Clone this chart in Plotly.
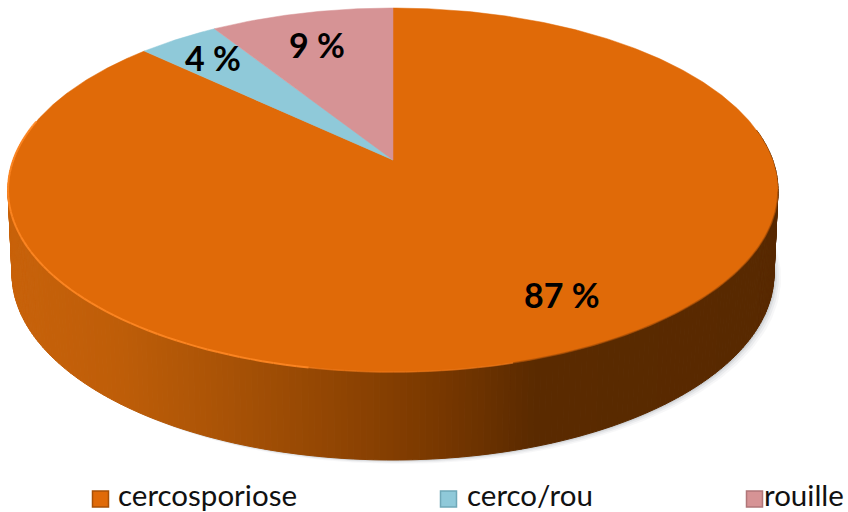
import numpy as np
import plotly.graph_objects as go

categories = ["cercosporiose", "cerco/rou", "rouille"]
values = [87, 4, 9]
labels = ["87 %", "4 %", "9 %"]
colors = ["#E06A08", "#8FC9D9", "#D69395"]

W, H = 848, 512
CX, C = 393.0, 60 / 364
A, B, K = 160.0, -150.68, 379.7
BX, BY, BCY, TCY = 381 / 385, 186 / 182, 274.0, 190.0


def project(theta, r=1.0):
    u, v = r * np.sin(theta), r * np.cos(theta)
    d = 1 + C * v
    return CX + K * u / d, (A + B * v) / d


def bottom(theta):
    x, y = project(theta)
    return CX + BX * (x - CX), BCY + BY * (y - TCY)


fig = go.Figure()

# soft shadow under the body
th = np.linspace(0, 2 * np.pi, 361)
bx, by = bottom(th)
for grow, alpha in [(7, 0.05), (5, 0.07), (3, 0.10), (1.5, 0.14)]:
    fig.add_trace(go.Scatter(x=bx + grow, y=by + grow * 0.55, mode="lines", fill="toself",
                             fillcolor=f"rgba(90,100,110,{alpha})", line=dict(width=0),
                             hoverinfo="skip", showlegend=False))

# side wall, shaded by horizontal position
stops_x = [8, 120, 220, 320, 420, 480, 535, 780]
stops_rgb = np.array([[200, 98, 10], [190, 93, 8], [170, 83, 6], [148, 71, 3],
                      [125, 58, 0], [108, 50, 0], [90, 42, 0], [88, 41, 0]], float)
edges = np.radians(np.linspace(80, 280, 241))
for a0, a1 in zip(edges[:-1], edges[1:]):
    t = np.linspace(a0, a1, 4)
    tx, ty = project(t)
    ux, uy = bottom(t)
    xm = float(np.mean(tx))
    rgb = [np.interp(xm, stops_x, stops_rgb[:, i]) for i in range(3)]
    col = f"rgb({rgb[0]:.0f},{rgb[1]:.0f},{rgb[2]:.0f})"
    fig.add_trace(go.Scatter(x=np.r_[tx, ux[::-1], tx[0]], y=np.r_[ty, uy[::-1], ty[0]],
                             mode="lines", fill="toself", fillcolor=col,
                             line=dict(color=col, width=1), hoverinfo="skip", showlegend=False))

# top face slices, clockwise from 12 o'clock
fr = np.cumsum([0] + values) / sum(values) * 2 * np.pi
for i, name in enumerate(categories):
    t = np.linspace(fr[i], fr[i + 1], max(8, int((fr[i + 1] - fr[i]) * 120)))
    x, y = project(t)
    ax, ay = project(np.array([0.0]), 0.0)
    fig.add_trace(go.Scatter(x=np.r_[ax, x, ax], y=np.r_[ay, y, ay], mode="lines", fill="toself",
                             fillcolor=colors[i], line=dict(color=colors[i], width=0.5),
                             name=name, hoverinfo="name", showlegend=False))

# rim highlight on the front left, darker rim on the front right
rim = np.radians(np.linspace(100, 283, 120))
for a0, a1 in zip(rim[:-1], rim[1:]):
    deg = np.degrees((a0 + a1) / 2)
    if deg > 190:
        col, w = "rgba(255,135,35,0.9)", 2
    elif deg > 165:
        col, w = "rgba(245,125,30,0.55)", 1.5
    else:
        col, w = "rgba(150,70,5,0.55)", 1.5
    t = np.linspace(a0, a1, 3)
    x, y = project(t)
    fig.add_trace(go.Scatter(x=x, y=y, mode="lines", line=dict(color=col, width=w),
                             hoverinfo="skip", showlegend=False))

# legend
marker_x = [100.5, 448.5, 754.5]
text_x = [116, 465, 762]
legend_y = 499
text_y = 494
dark = ["#A85006", "#6FA8B8", "#B07678"]
for i, name in enumerate(categories):
    fig.add_trace(go.Scatter(x=[marker_x[i]], y=[legend_y], mode="markers",
                             marker=dict(symbol="square", size=16, color=colors[i],
                                         line=dict(color=dark[i], width=1.5)),
                             hoverinfo="skip", showlegend=False))
    fig.add_annotation(x=text_x[i], y=text_y, text=name, showarrow=False, xanchor="left",
                       yanchor="middle", font=dict(family="Lato", size=29.5, color="#111111"))

label_pos = [(562, 294), (213, 57), (317, 44)]
for lab, (lx, ly) in zip(labels, label_pos):
    fig.add_annotation(x=lx, y=ly, text=f"<b>{lab}</b>", showarrow=False,
                       font=dict(family="Lato", size=34, color="#000000"))

fig.update_layout(width=W, height=H, margin=dict(l=0, r=0, t=0, b=0),
                  paper_bgcolor="white", plot_bgcolor="white", showlegend=False,
                  xaxis=dict(range=[0, W], visible=False, fixedrange=True),
                  yaxis=dict(range=[H, 0], visible=False, fixedrange=True))
fig.write_html("out.html", config={"displayModeBar": False},
               post_script="document.body.style.margin='0';document.body.style.overflow='hidden';")
